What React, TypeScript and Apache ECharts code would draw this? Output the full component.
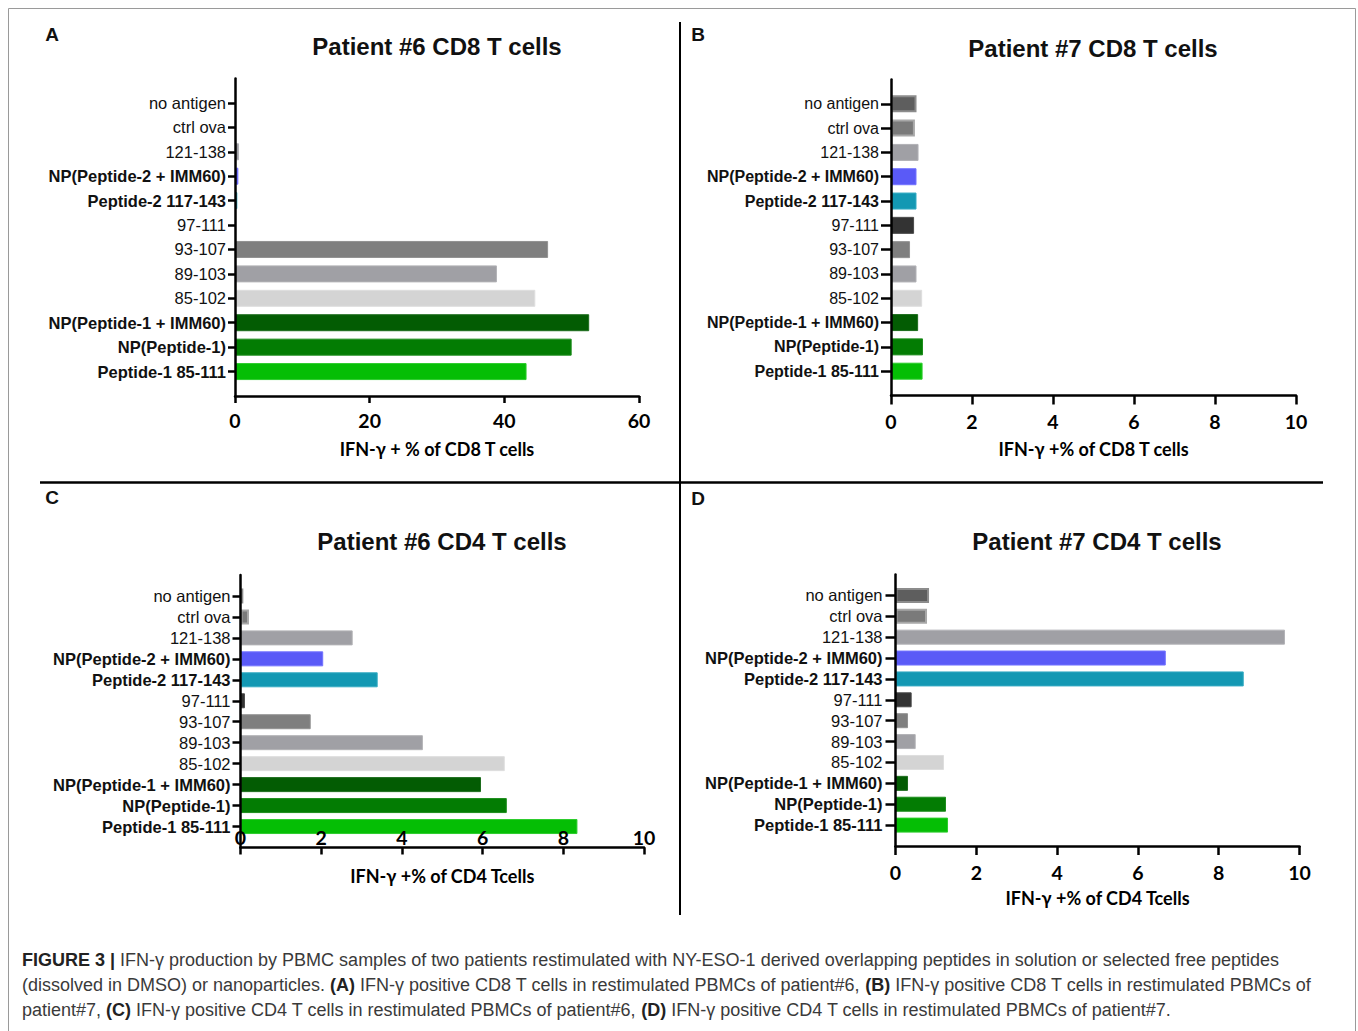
import React, { useEffect, useRef } from "react";
import * as echarts from "echarts";

// ---- data ----
const categories = [
  "no antigen",
  "ctrl ova",
  "121-138",
  "NP(Peptide-2 + IMM60)",
  "Peptide-2 117-143",
  "97-111",
  "93-107",
  "89-103",
  "85-102",
  "NP(Peptide-1 + IMM60)",
  "NP(Peptide-1)",
  "Peptide-1 85-111",
];
const boldCategories = [
  "NP(Peptide-2 + IMM60)",
  "Peptide-2 117-143",
  "NP(Peptide-1 + IMM60)",
  "NP(Peptide-1)",
  "Peptide-1 85-111",
];
const barColors = [
  "#5e5e5e", "#7a7a7a", "#a0a0a5", "#5a5af7", "#1398b3", "#333333",
  "#7f7f7f", "#a0a0a5", "#d4d4d4", "#035c03", "#037c03", "#05be05",
];
const barBorders = [
  "#8c8c8c", "#a8a8a8", "#b2b2b6", "#7272ff", "#35abc3", "#4a4a4a",
  "#929292", "#b2b2b6", "#dedede", "#1c6c1c", "#1c8c1c", "#2ccc2c",
];

const patient6CD8 = [0, 0, 0.6, 0.5, 0.35, 0.15, 46.5, 38.9, 44.6, 52.6, 50.0, 43.3];
const patient7CD8 = [0.63, 0.59, 0.68, 0.63, 0.63, 0.57, 0.47, 0.63, 0.77, 0.67, 0.79, 0.78];
const patient6CD4 = [0.07, 0.21, 2.78, 2.05, 3.4, 0.11, 1.74, 4.52, 6.55, 5.96, 6.6, 8.35];
const patient7CD4 = [0.83, 0.78, 9.64, 6.69, 8.62, 0.4, 0.31, 0.5, 1.2, 0.31, 1.25, 1.3];

const titles = [
  "Patient #6 CD8 T cells",
  "Patient #7 CD8 T cells",
  "Patient #6 CD4 T cells",
  "Patient #7 CD4 T cells",
];
const axisNames = [
  "IFN-γ + % of CD8 T cells",
  "IFN-γ +% of CD8 T cells",
  "IFN-γ +% of CD4 Tcells",
  "IFN-γ +% of CD4 Tcells",
];
const panelLetters = ["A", "B", "C", "D"];
const xMaxes = [60, 10, 10, 10];
const xIntervals = [20, 2, 2, 2];

const captionLines = [
  "{b|FIGURE 3 |} IFN-γ production by PBMC samples of two patients restimulated with NY-ESO-1 derived overlapping peptides in solution or selected free peptides",
  "(dissolved in DMSO) or nanoparticles. {b|(A)} IFN-γ positive CD8 T cells in restimulated PBMCs of patient#6, {b|(B)} IFN-γ positive CD8 T cells in restimulated PBMCs of",
  "patient#7, {b|(C)} IFN-γ positive CD4 T cells in restimulated PBMCs of patient#6, {b|(D)} IFN-γ positive CD4 T cells in restimulated PBMCs of patient#7.",
];

// ---- layout ----
const panelData = [patient6CD8, patient7CD8, patient6CD4, patient7CD4];
const grids = [
  { left: 235, top: 78.5, width: 404, height: 317.5 },
  { left: 891, top: 79.5, width: 405, height: 316 },
  { left: 240.5, top: 575, width: 403.5, height: 272.5 },
  { left: 895.5, top: 574.5, width: 404, height: 271.5 },
];
const nameGaps = [44, 44, 19, 43];
const labelMargins = [14, 16, 0, 16];
const labelInside = [false, false, true, false];
const barWidths = [17, 17, 15, 15];
const yTickLen = [7, 10, 8, 10];
const yLabelMargin = [9, 12, 10, 13];
const yLabelSize = [16.5, 16, 16.5, 16.5];
const xTickLen = [7, 9, 7, 9];
const titlePos = [[437, 46], [1093, 48], [442, 541], [1097, 541]];
const letterPos = [[52, 34], [698, 34], [52, 497], [698, 498]];

const ARIAL = '"Liberation Sans", Arial, Helvetica, sans-serif';
const CALIBRI = 'Lato, "Open Sans", sans-serif';

function buildOption() {
  const padTop = "_top";
  const padBottom = "_bottom";
  const yData = [padTop, ...categories, padBottom];

  const xAxis = panelData.map((_, i) => ({
    type: "value",
    gridIndex: i,
    min: 0,
    max: xMaxes[i],
    interval: xIntervals[i],
    z: labelInside[i] ? 10 : 3,
    splitLine: { show: false },
    axisLine: { show: true, lineStyle: { color: "#000", width: 2.5 } },
    axisTick: { show: true, length: xTickLen[i], lineStyle: { color: "#000", width: 2.5 } },
    axisLabel: {
      inside: labelInside[i],
      margin: labelMargins[i],
      color: "#000",
      fontFamily: CALIBRI,
      fontWeight: "bold",
      fontSize: 19.5,
    },
    name: axisNames[i],
    nameLocation: "middle",
    nameGap: nameGaps[i],
    nameTextStyle: {
      color: "#000",
      fontFamily: CALIBRI,
      fontWeight: "bold",
      fontSize: 18,
    },
  }));

  const yAxis = panelData.map((_, i) => ({
    type: "category",
    gridIndex: i,
    data: yData,
    inverse: true,
    boundaryGap: false,
    z: 3,
    axisLine: { show: true, lineStyle: { color: "#000", width: 2.5 } },
    axisTick: {
      show: true,
      length: yTickLen[i],
      interval: (_idx: number, v: string) => v !== padTop && v !== padBottom,
      lineStyle: { color: "#000", width: 2.5 },
    },
    axisLabel: {
      interval: 0,
      margin: yLabelMargin[i],
      formatter: (v: string) => {
        if (v === padTop || v === padBottom) return "";
        return boldCategories.includes(v) ? `{b|${v}}` : `{n|${v}}`;
      },
      rich: {
        n: { fontFamily: ARIAL, fontSize: yLabelSize[i], color: "#111" },
        b: { fontFamily: ARIAL, fontSize: yLabelSize[i], color: "#111", fontWeight: "bold" },
      },
    },
  }));

  const series = panelData.map((vals, i) => ({
    type: "bar",
    xAxisIndex: i,
    yAxisIndex: i,
    barWidth: barWidths[i],
    silent: true,
    data: [
      "-",
      ...vals.map((v, k) => ({
        value: v,
        itemStyle: {
          color: barColors[k],
          borderColor: barBorders[k],
          borderWidth: v === 0 ? 0 : k < 2 ? 2 : 1,
        },
      })),
      "-",
    ],
  }));

  const graphic: any[] = [
    {
      type: "rect",
      shape: { x: 8.5, y: 8.5, width: 1347, height: 1040 },
      style: { fill: "none", stroke: "#9a9a9a", lineWidth: 1 },
      silent: true,
    },
    {
      type: "line",
      shape: { x1: 680, y1: 22, x2: 680, y2: 915 },
      style: { stroke: "#000", lineWidth: 2 },
      silent: true,
    },
    {
      type: "line",
      shape: { x1: 40, y1: 482.5, x2: 1323, y2: 482.5 },
      style: { stroke: "#000", lineWidth: 2.5 },
      silent: true,
    },
  ];
  titles.forEach((t, i) => {
    graphic.push({
      type: "text",
      x: titlePos[i][0],
      y: titlePos[i][1],
      silent: true,
      style: {
        text: t,
        fill: "#111",
        font: `bold 24px ${ARIAL}`,
        textAlign: "center",
        textVerticalAlign: "middle",
      },
    });
    graphic.push({
      type: "text",
      x: letterPos[i][0],
      y: letterPos[i][1],
      silent: true,
      style: {
        text: panelLetters[i],
        fill: "#111",
        font: `bold 19px ${ARIAL}`,
        textAlign: "center",
        textVerticalAlign: "middle",
      },
    });
  });
  captionLines.forEach((line, i) => {
    graphic.push({
      type: "text",
      x: 22,
      y: 960 + i * 25,
      silent: true,
      style: {
        text: line,
        fill: "#3a3a3a",
        fontFamily: ARIAL,
        fontSize: 18,
        textAlign: "left",
        textVerticalAlign: "middle",
        rich: {
          b: { fontFamily: ARIAL, fontSize: 18, fontWeight: "bold", fill: "#222" },
        },
      },
    });
  });

  return {
    animation: false,
    backgroundColor: "#fff",
    grid: grids.map((g) => ({ ...g, containLabel: false })),
    xAxis,
    yAxis,
    series,
    graphic,
  };
}

export default function App() {
  const ref = useRef<HTMLDivElement>(null);
  useEffect(() => {
    if (!ref.current) return;
    const chart = echarts.init(ref.current, undefined, { renderer: "svg" });
    chart.setOption(buildOption() as any);
    return () => chart.dispose();
  }, []);
  return (
    <div
      ref={ref}
      style={{ position: "absolute", left: 0, top: 0, width: 1358, height: 1031, background: "#fff" }}
    />
  );
}
